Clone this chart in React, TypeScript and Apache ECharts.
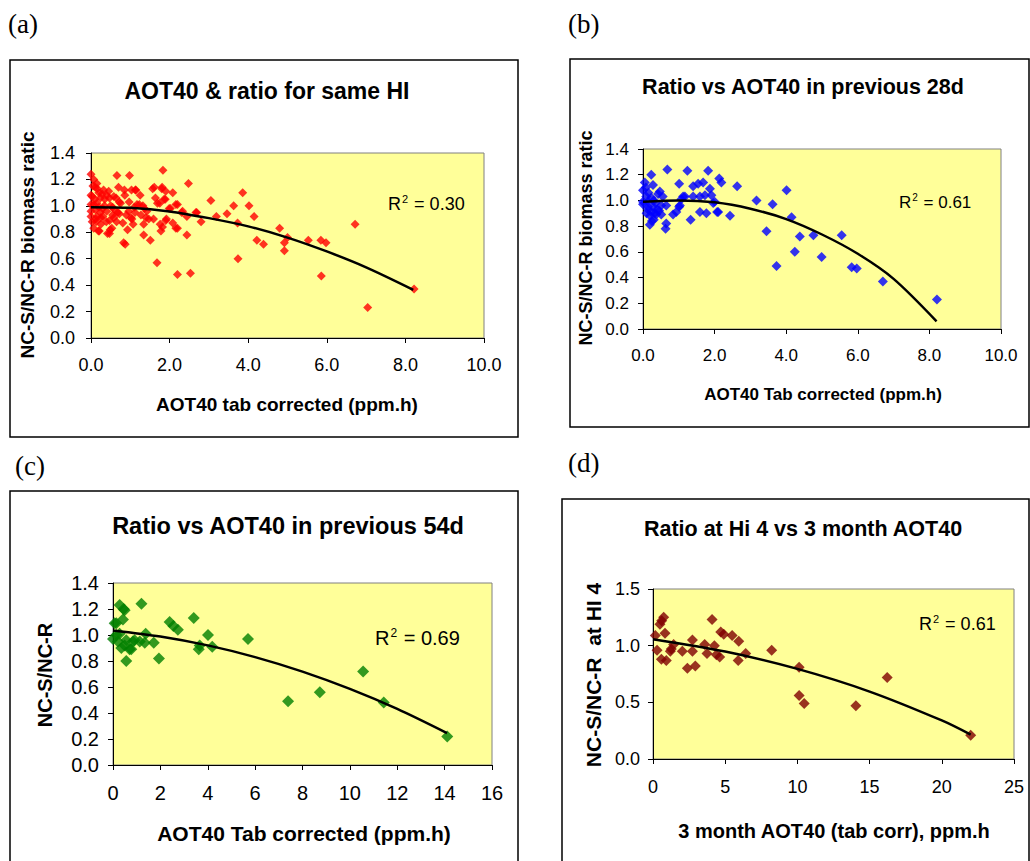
import React, { useEffect, useRef } from "react";
import * as echarts from "echarts";

// ---------- data ----------
const pointsA: number[][] = [
  [2.48, 1.17], [2.53, 0.49], [2.2, 0.48], [1.68, 0.57], [1.83, 1.27], [0.66, 1.23], [0.98, 1.23], [0, 1.24],
  [3.05, 1.04], [2.69, 0.95], [2.8, 0.88], [3.19, 0.92], [3.46, 0.94], [3.63, 1.0], [3.86, 1.1], [3.73, 0.87],
  [3.74, 0.6], [4.02, 1.0], [4.15, 0.92], [4.22, 0.74], [4.39, 0.71], [4.8, 0.83], [4.92, 0.72], [4.92, 0.66],
  [5.0, 0.76], [5.53, 0.74], [5.85, 0.74], [5.98, 0.72], [5.86, 0.47], [6.72, 0.86], [7.04, 0.23], [8.22, 0.37],
  [2.44, 0.78], [2.44, 0.92], [2.31, 0.95], [2.2, 1.01], [2.2, 0.83], [2.08, 1.1], [2.08, 0.87], [2.02, 0.98],
  [1.89, 1.05], [1.92, 0.9], [1.81, 1.14], [1.76, 0.86], [1.78, 0.81], [1.75, 1.02], [1.64, 1.06], [1.61, 1.14],
  [1.59, 0.9], [1.51, 0.74], [1.47, 0.9], [1.42, 0.96], [1.34, 0.86], [1.34, 0.78], [1.32, 1.0], [1.25, 1.08],
  [1.17, 1.01], [1.13, 1.12], [1.04, 0.9], [1.07, 0.86], [1.03, 1.12], [0.93, 0.82], [0.87, 0.71], [0.83, 0.72],
  [0.81, 0.87], [0.86, 1.08], [0.7, 1.14], [0.68, 0.95], [0.75, 1.02], [0.58, 1.07], [0.58, 0.91], [0.49, 0.82],
  [0.45, 1.11], [0.42, 0.79], [0.34, 1.0], [0.39, 0.88], [0.32, 1.12], [0.24, 1.06], [0.24, 0.95], [0.19, 0.81],
  [0.15, 1.17], [0.11, 1.14], [0.07, 1.2], [0.07, 0.83], [0.03, 0.88], [0.07, 1.01], [0.15, 0.92], [0.11, 0.97],
  [0.25, 0.86], [0.15, 1.02], [0, 0.96], [0, 0.92], [0.03, 1.07], [0, 1.08], [0, 1.01],
  [1.57, 1.13], [1.8, 1.13], [1.9, 1.11], [1.86, 1.05], [0.47, 1.06], [0.64, 1.06], [0.72, 1.03], [0.97, 1.03],
  [1.23, 1.01], [1.36, 0.98], [1.69, 1.02], [1.99, 0.98], [2.16, 1.01], [2.33, 0.96], [2.67, 0.95], [2.16, 0.83],
  [1.9, 0.89], [1.82, 0.84], [1.27, 0.93], [1.02, 0.91], [0.72, 0.94], [0.55, 0.93], [0.47, 0.89], [0.53, 0.83],
  [0.47, 0.79], [0.21, 0.81], [0.13, 0.88], [0.25, 0.91], [1.14, 1.12], [0.85, 1.12], [1.4, 0.91], [0.96, 0.96],
  [1.12, 0.95], [0.3, 0.98], [0.4, 0.96], [0.6, 0.97], [0.2, 1.1], [0.35, 1.05], [0.1, 1.05], [0.2, 0.99],
  [0.5, 1.0], [0.3, 0.92], [0.12, 0.9], [0.4, 1.08], [0.05, 1.15], [0.16, 1.13], [0.28, 1.09], [0.55, 0.99],
  [0.65, 0.88], [0.9, 0.93], [1.1, 0.99],
];
const trendAX = [0, 1, 2, 3, 4, 5, 6, 7, 8.2];
const trendAY = [0.99, 0.985, 0.958, 0.907, 0.845, 0.76, 0.655, 0.535, 0.365];

const pointsB: number[][] = [
  [0.68, 1.24], [1.24, 1.23], [1.82, 1.23], [0.23, 1.2], [2.13, 1.17], [2.19, 1.14], [2.63, 1.11], [1.01, 1.13],
  [4.01, 1.08], [3.17, 1.0], [3.62, 0.97], [2.43, 0.88], [2.07, 0.91], [1.77, 0.9], [1.59, 0.91], [1.33, 0.85],
  [4.15, 0.87], [3.45, 0.76], [4.38, 0.72], [4.76, 0.73], [5.55, 0.73], [4.24, 0.6], [4.99, 0.56], [3.73, 0.49],
  [5.83, 0.48], [5.97, 0.47], [6.7, 0.37], [8.21, 0.23],
  [1.4, 1.11], [1.54, 1.13], [1.68, 1.14], [1.87, 1.09], [1.91, 1.04], [1.73, 1.04], [1.59, 1.03], [1.4, 1.03],
  [1.17, 1.03], [1.07, 1.01], [1.03, 0.96], [0.93, 0.91], [0.84, 0.89], [0.65, 0.82], [0.63, 0.78], [0.65, 0.96],
  [0.51, 0.96], [0.47, 1.07], [0.42, 1.05], [0.28, 1.12], [0.05, 1.14], [0, 1.08], [0.09, 1.03], [0, 0.99],
  [0.14, 0.95], [0.23, 0.91], [0.37, 0.89], [0.19, 0.81], [0, 0.97], [0.14, 0.93], [0.28, 0.95], [0.33, 0.9],
  [0.51, 0.89], [0.23, 1.02], [0.14, 0.99], [2.0, 0.99], [1.96, 0.98], [2.1, 0.91], [1.12, 1.03], [1.01, 0.95],
  [0.3, 0.85], [0.2, 0.88], [0.4, 0.93], [0.1, 0.9], [0.35, 0.98], [0.15, 1.06], [0.3, 1.0], [0.45, 0.92],
  [0.25, 0.84], [0.08, 1.1], [0.55, 1.03],
];
const trendBX = [0, 1, 2, 3, 4, 5, 6, 7, 8.2];
const trendBY = [0.99, 1.0, 0.985, 0.935, 0.855, 0.735, 0.585, 0.39, 0.06];

const pointsC: number[][] = [
  [0, 0.97], [0.07, 1.09], [0.28, 1.23], [0.45, 1.2], [0.42, 1.12], [0.56, 0.8], [0.35, 0.9], [0.7, 0.89],
  [0.84, 0.95], [0.56, 0.96], [1.2, 1.24], [1.38, 1.01], [1.34, 0.94], [1.72, 0.94], [1.94, 0.82], [2.39, 1.1],
  [2.74, 1.04], [2.55, 1.07], [3.41, 1.13], [3.62, 0.89], [3.66, 0.92], [4.01, 1.0], [4.19, 0.91], [5.7, 0.97],
  [7.39, 0.49], [8.73, 0.56], [10.56, 0.72], [11.43, 0.48], [14.11, 0.22], [0.49, 1.19], [0.14, 1.09], [0.28, 1.01],
  [0.21, 0.95], [0.49, 0.92], [0.77, 0.89], [0.91, 0.96], [1.13, 0.95], [0.14, 1.0],
];
const trendCX = [0, 2, 4, 6, 8, 10, 12, 14.1];
const trendCY = [1.035, 0.988, 0.92, 0.83, 0.718, 0.585, 0.431, 0.245];

const pointsD: number[][] = [
  [0.16, 1.09], [0.28, 0.96], [0.48, 1.19], [0.74, 1.25], [0.83, 1.11], [0.58, 0.88], [0.92, 0.87], [1.27, 0.97],
  [1.43, 1.01], [2.03, 0.95], [2.38, 0.8], [2.93, 0.82], [2.73, 1.05], [2.73, 0.95], [3.58, 1.01], [3.74, 0.93],
  [4.09, 1.23], [4.25, 1.0], [4.39, 0.92], [4.62, 0.9], [4.69, 1.12], [4.9, 1.1], [5.48, 1.09], [5.94, 1.04],
  [5.9, 0.87], [6.42, 0.93], [8.22, 0.96], [10.12, 0.81], [10.12, 0.56], [10.47, 0.49], [14.05, 0.47], [16.22, 0.72],
  [22.0, 0.21], [0.6, 1.22], [1.2, 0.95],
];
const trendDX = [0, 5, 10, 15, 20, 22];
const trendDY = [1.057, 0.948, 0.795, 0.595, 0.34, 0.215];

const titles = [
  "AOT40 & ratio for same HI",
  "Ratio vs AOT40 in previous 28d",
  "Ratio vs AOT40 in previous 54d",
  "Ratio at Hi 4 vs 3 month AOT40",
];
const xNames = [
  "AOT40 tab corrected (ppm.h)",
  "AOT40 Tab corrected (ppm.h)",
  "AOT40 Tab corrected (ppm.h)",
  "3 month AOT40 (tab corr), ppm.h",
];
const yNames = ["NC-S/NC-R biomass ratic", "NC-S/NC-R biomass ratic", "NC-S/NC-R", "NC-S/NC-R  at HI 4"];
const r2Values = ["0.30", "0.61", "0.69", "0.61"];
const panelLabels = ["(a)", "(b)", "(c)", "(d)"];

const FONT = "Arial, 'Liberation Sans', sans-serif";

function zip(xs: number[], ys: number[]) {
  return xs.map((x, i) => [x, ys[i]]);
}

export default function App() {
  const ref = useRef<HTMLDivElement>(null);
  useEffect(() => {
    if (!ref.current) return;
    const chart = echarts.init(ref.current, null, { renderer: "svg" });

    const grids = [
      { left: 91, top: 153, width: 393, height: 185 },
      { left: 643, top: 149, width: 358, height: 180 },
      { left: 113, top: 583, width: 379, height: 182 },
      { left: 653, top: 589, width: 361, height: 170 },
    ].map((g) => ({
      ...g,
      show: true,
      backgroundColor: "#FFFF99",
      borderColor: "#808080",
      borderWidth: 1,
      containLabel: false,
    }));

    const xCfg = [
      { max: 10, interval: 2, dec: 1, fs: 18, margin: 18 },
      { max: 10, interval: 2, dec: 1, fs: 17, margin: 18 },
      { max: 16, interval: 2, dec: 0, fs: 20, margin: 18 },
      { max: 25, interval: 5, dec: 0, fs: 18, margin: 19 },
    ];
    const yCfg = [
      { max: 1.4, interval: 0.2, fs: 18, margin: 16 },
      { max: 1.4, interval: 0.2, fs: 17, margin: 14 },
      { max: 1.4, interval: 0.2, fs: 20, margin: 14 },
      { max: 1.5, interval: 0.5, fs: 18, margin: 13 },
    ];

    const xAxis = xCfg.map((c, i) => ({
      type: "value",
      gridIndex: i,
      min: 0,
      max: c.max,
      interval: c.interval,
      axisLine: { show: true, onZero: false, lineStyle: { color: "#000", width: 1 } },
      axisTick: { show: true, inside: false, length: 5, lineStyle: { color: "#000" } },
      axisLabel: {
        color: "#000",
        fontSize: c.fs,
        fontFamily: FONT,
        margin: c.margin,
        formatter: (v: number) => v.toFixed(c.dec),
      },
      splitLine: { show: false },
    }));
    const yAxis = yCfg.map((c, i) => ({
      type: "value",
      gridIndex: i,
      min: 0,
      max: c.max,
      interval: c.interval,
      axisLine: { show: true, onZero: false, lineStyle: { color: "#000", width: 1 } },
      axisTick: { show: true, inside: false, length: 5, lineStyle: { color: "#000" } },
      axisLabel: {
        color: "#000",
        fontSize: c.fs,
        fontFamily: FONT,
        margin: c.margin,
        formatter: (v: number) => v.toFixed(1),
      },
      splitLine: { show: false },
    }));

    const pts = [pointsA, pointsB, pointsC, pointsD];
    const colors = ["#FF0000", "#0000FF", "#008000", "#800000"];
    const sizes = [9, 10, 12, 11];
    const trends = [zip(trendAX, trendAY), zip(trendBX, trendBY), zip(trendCX, trendCY), zip(trendDX, trendDY)];

    const series: any[] = [];
    pts.forEach((p, i) => {
      series.push({
        type: "scatter",
        xAxisIndex: i,
        yAxisIndex: i,
        data: p,
        symbol: "diamond",
        symbolSize: sizes[i],
        itemStyle: { color: colors[i] },
      });
    });
    trends.forEach((t, i) => {
      series.push({
        type: "line",
        xAxisIndex: i,
        yAxisIndex: i,
        data: t,
        smooth: 0.3,
        showSymbol: false,
        symbol: "none",
        lineStyle: { color: "#000", width: 2.5 },
        z: 5,
      });
    });

    const boxes = [
      { x: 10, y: 60, w: 508, h: 377 },
      { x: 570, y: 59, w: 459, h: 368 },
      { x: 10, y: 491, w: 508, h: 400 },
      { x: 562, y: 499, w: 467, h: 400 },
    ];
    const titlePos = [
      { x: 267, y: 91, fs: 23 },
      { x: 803, y: 87, fs: 21.5 },
      { x: 288, y: 526, fs: 23.5 },
      { x: 803, y: 529, fs: 21.5 },
    ];
    const xNamePos = [
      { x: 287, y: 404, fs: 19 },
      { x: 823, y: 394, fs: 17 },
      { x: 304, y: 833, fs: 21 },
      { x: 834, y: 831, fs: 20 },
    ];
    const yNamePos = [
      { x: 27, y: 245, fs: 19 },
      { x: 586, y: 238, fs: 18 },
      { x: 45, y: 675, fs: 20 },
      { x: 593, y: 675, fs: 21 },
    ];
    const r2Pos = [
      { x: 388, y: 204, fs: 18 },
      { x: 899, y: 202, fs: 17 },
      { x: 375, y: 638, fs: 20 },
      { x: 919, y: 624, fs: 18 },
    ];
    const labelPos = [
      { x: 8, y: 24 },
      { x: 568, y: 24 },
      { x: 15, y: 466 },
      { x: 568, y: 463 },
    ];

    const graphic: any[] = [];
    boxes.forEach((b) => {
      graphic.push({
        type: "rect",
        shape: { x: b.x, y: b.y, width: b.w, height: b.h },
        style: { fill: "none", stroke: "#000", lineWidth: 1.5 },
        silent: true,
        z: -10,
      });
    });
    titlePos.forEach((p, i) => {
      graphic.push({
        type: "text",
        x: p.x,
        y: p.y,
        style: {
          text: titles[i],
          fontSize: p.fs,
          fontWeight: "bold",
          fontFamily: FONT,
          fill: "#000",
          align: "center",
          verticalAlign: "middle",
        },
      });
    });
    xNamePos.forEach((p, i) => {
      graphic.push({
        type: "text",
        x: p.x,
        y: p.y,
        style: {
          text: xNames[i],
          fontSize: p.fs,
          fontWeight: "bold",
          fontFamily: FONT,
          fill: "#000",
          align: "center",
          verticalAlign: "middle",
        },
      });
    });
    yNamePos.forEach((p, i) => {
      graphic.push({
        type: "text",
        x: p.x,
        y: p.y,
        rotation: Math.PI / 2,
        style: {
          text: yNames[i],
          fontSize: p.fs,
          fontWeight: "bold",
          fontFamily: FONT,
          fill: "#000",
          align: "center",
          verticalAlign: "middle",
        },
      });
    });
    r2Pos.forEach((p, i) => {
      graphic.push({
        type: "text",
        x: p.x,
        y: p.y,
        style: {
          text: "R{sup|2} = " + r2Values[i],
          fontSize: p.fs,
          fontFamily: FONT,
          fill: "#000",
          align: "left",
          verticalAlign: "middle",
          rich: {
            sup: { fontSize: Math.round(p.fs * 0.6), fontFamily: FONT, fill: "#000", padding: [0, 1, p.fs * 0.55, 1] },
          },
        },
      });
    });
    labelPos.forEach((p, i) => {
      graphic.push({
        type: "text",
        x: p.x,
        y: p.y,
        style: {
          text: panelLabels[i],
          fontSize: 27,
          fontFamily: "'Liberation Serif', 'Times New Roman', serif",
          fill: "#000",
          align: "left",
          verticalAlign: "middle",
        },
      });
    });

    chart.setOption({
      animation: false,
      backgroundColor: "#fff",
      grid: grids,
      xAxis,
      yAxis,
      series,
      graphic,
    });
    return () => chart.dispose();
  }, []);

  return (
    <div
      ref={ref}
      style={{ position: "absolute", left: 0, top: 0, width: 1030, height: 861 }}
    />
  );
}
